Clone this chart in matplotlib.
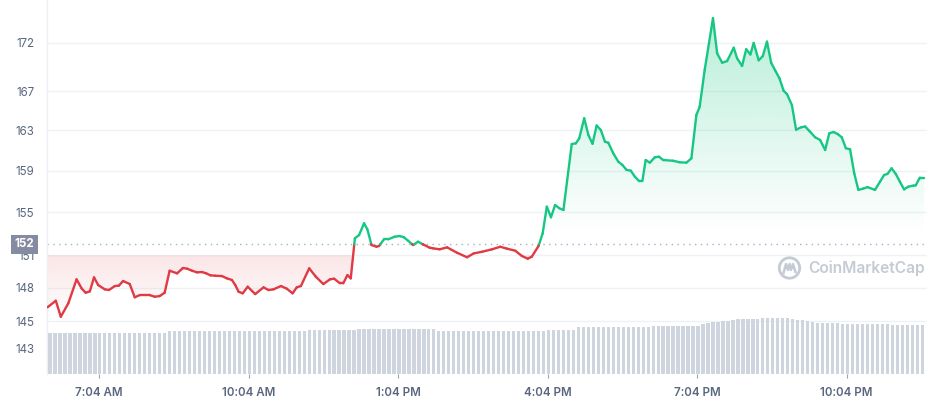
import numpy as np
import matplotlib
matplotlib.use("Agg")
import matplotlib.pyplot as plt
from matplotlib.collections import LineCollection
from matplotlib.path import Path
from matplotlib.patches import PathPatch, Circle, FancyBboxPatch
from matplotlib.colors import to_rgb
from matplotlib.ticker import FixedLocator, FixedFormatter, NullLocator

# ---------------- data (minutes since midnight, price USD) ----------------
times = [
    362, 372, 378, 387, 397, 403, 408, 413, 418, 423,
    431, 436, 443, 448, 453, 461, 467, 473, 485, 491,
    497, 503, 509, 518, 525, 530, 536, 542, 548, 553,
    558, 564, 572, 578, 584, 588, 592, 597, 603, 612,
    622, 628, 634, 643, 650, 657, 662, 667, 677, 685,
    694, 702, 707, 714, 718, 723, 727, 732, 737, 743,
    747, 752, 758, 761, 767, 772, 780, 786, 791, 796,
    802, 808, 814, 822, 826, 834, 843, 855, 867, 875,
    885, 897, 907, 915, 925, 933, 940, 945, 953, 958,
    963, 968, 973, 978, 983, 993, 998, 1002, 1008, 1013,
    1018, 1023, 1028, 1033, 1037, 1043, 1049, 1054, 1059, 1064,
    1069, 1074, 1078, 1082, 1087, 1093, 1098, 1103, 1115, 1123,
    1131, 1137, 1143, 1147, 1153, 1163, 1168, 1174, 1180, 1188,
    1192, 1198, 1203, 1208, 1212, 1218, 1223, 1228, 1233, 1238,
    1243, 1248, 1252, 1258, 1263, 1269, 1274, 1279, 1286, 1292,
    1298, 1303, 1308, 1313, 1318, 1323, 1328, 1333, 1338, 1344,
    1349, 1358, 1364, 1369, 1373, 1378, 1383, 1388, 1393, 1398,
    1404, 1407, 1412, 1417,
]
prices = [
    146.23, 146.82, 145.38, 146.58, 148.76, 147.94, 147.54, 147.67, 148.94, 148.24,
    147.85, 147.79, 148.15, 148.19, 148.61, 148.33, 147.13, 147.33, 147.33, 147.18,
    147.24, 147.54, 149.55, 149.31, 149.80, 149.74, 149.55, 149.40, 149.43, 149.31,
    149.13, 149.09, 149.06, 148.85, 148.70, 148.24, 147.63, 147.49, 148.09, 147.42,
    148.03, 147.79, 147.85, 148.15, 147.91, 147.49, 148.03, 148.15, 149.77, 149.00,
    148.33, 148.76, 148.82, 148.40, 148.40, 149.15, 148.85, 152.56, 152.86, 153.97,
    153.40, 151.93, 151.77, 151.84, 152.46, 152.46, 152.71, 152.77, 152.65, 152.33,
    151.93, 152.24, 151.99, 151.68, 151.62, 151.53, 151.71, 151.21, 150.79, 151.15,
    151.30, 151.53, 151.77, 151.59, 151.40, 150.91, 150.66, 150.85, 151.84, 153.02,
    155.55, 154.54, 155.71, 155.40, 155.23, 161.65, 161.72, 162.22, 164.23, 162.55,
    161.68, 163.50, 163.05, 161.88, 161.78, 160.73, 159.91, 159.58, 159.10, 159.03,
    158.44, 158.02, 158.02, 160.07, 159.81, 160.34, 160.40, 160.07, 160.00, 159.85,
    159.81, 160.24, 164.56, 165.40, 169.17, 174.63, 170.91, 169.93, 170.10, 171.50,
    170.39, 169.59, 171.34, 170.79, 172.00, 170.18, 170.63, 172.14, 169.93, 169.10,
    168.31, 167.03, 166.69, 165.57, 163.08, 163.32, 163.40, 162.95, 162.32, 162.05,
    161.06, 162.72, 162.85, 162.65, 162.32, 161.23, 161.13, 158.77, 157.16, 157.29,
    157.43, 157.16, 157.95, 158.61, 158.71, 159.26, 158.71, 157.95, 157.21, 157.47,
    157.57, 157.60, 158.35, 158.35,
]
open_price = 152.0

# volume bars, one every 6 minutes from 6:02 (relative units)
volume = [
    41.3, 41.3, 41.3, 41.3, 41.3, 41.3, 41.3, 41.3, 41.3, 41.3, 41.3, 41.3,
    41.3, 41.3, 41.3, 41.3, 41.3, 41.3, 41.3, 41.3, 41.3, 41.3, 41.3, 41.3,
    42.7, 42.7, 42.7, 42.7, 42.7, 42.7, 42.7, 42.7, 42.7, 42.7, 42.7, 42.7, 42.7, 42.7,
    42.7, 42.7, 42.7, 42.7, 42.7, 42.7, 42.7, 42.7, 42.7, 42.7, 42.7, 42.7, 42.7, 42.7,
    44.0, 44.0, 44.0, 44.0, 44.0, 44.0, 44.0, 44.0, 44.0, 44.0,
    44.7, 44.7, 44.7, 44.7, 44.7, 44.7, 44.7, 44.7, 44.7, 44.7, 44.7, 44.7, 44.7, 44.7, 44.7, 44.7,
    43.3, 43.3, 43.3, 43.3, 43.3, 43.3, 43.3, 43.3, 43.3, 43.3, 43.3,
    43.3, 43.3, 43.3, 43.3, 43.3, 43.3, 43.3, 43.3, 43.3, 43.3, 43.3,
    44.0, 44.0, 44.0, 44.0, 44.0, 44.0,
    47.3, 47.3, 47.3, 47.3, 47.3, 47.3, 47.3, 47.3, 47.3, 47.3, 47.3, 47.3, 47.3, 47.3, 47.3,
    48.3, 48.3, 48.3, 48.3, 48.3, 48.3, 48.3, 48.3, 48.3, 48.3,
    50.5, 51.0, 51.8, 52.3, 52.8, 53.3, 53.8,
    54.7, 54.7, 54.7, 54.7, 54.7,
    56.0, 56.3, 56.3, 56.3, 56.3, 56.0,
    55.0, 54.5, 54.0, 53.3,
    52.0, 51.5, 51.3, 51.3, 51.0, 50.8,
    50.3, 50.0, 50.0, 50.0, 50.3, 50.0, 50.0, 49.8, 50.0, 49.8, 49.5, 49.3,
    48.9, 48.7, 48.7, 48.7, 48.7,
]
volume_start, volume_step = 362, 6

ytick_values = [142.6, 145, 148, 151, 155, 159, 163, 167, 172]
ytick_labels = ["143", "145", "148", "151", "155", "159", "163", "167", "172"]
xtick_values = [424, 604, 784, 964, 1144, 1324]
xtick_labels = ["7:04 AM", "10:04 AM", "1:04 PM", "4:04 PM", "7:04 PM", "10:04 PM"]

GREEN = "#16c784"
RED = "#e03a44"
TXT = "#58667e"
GRID = "#eff2f5"

plt.rcParams["font.family"] = ["Inter", "DejaVu Sans"]

fig = plt.figure(figsize=(9.28, 4.0), dpi=100)
ax = fig.add_axes([47 / 928, 26 / 400, 881 / 928, 374 / 400])
ax.set_yscale("log")
ax.set_xlim(361.4, 1421.8)
ax.set_ylim(140.36, 176.6)
ax.set_autoscale_on(False)

t = np.array(times, float)
p = np.array(prices, float)

# insert crossing points with the open price
xs, ys = [t[0]], [p[0]]
for i in range(1, len(t)):
    a, b = p[i - 1] - open_price, p[i] - open_price
    if a * b < 0:
        fr = a / (a - b)
        xs.append(t[i - 1] + fr * (t[i] - t[i - 1]))
        ys.append(open_price)
    xs.append(t[i])
    ys.append(p[i])
xs = np.array(xs)
ys = np.array(ys)

# gridlines
for v in ytick_values[1:]:
    ax.axhline(v, color=GRID, lw=1.0, zorder=0.5)


def gradient_fill(where, color, f_lo, f_hi, a_lo, a_hi, zero_above=None):
    coll = ax.fill_between(xs, ys, open_price, where=where, interpolate=True,
                           facecolor="none", edgecolor="none")
    paths = coll.get_paths()
    coll.remove()
    if not paths:
        return
    path = Path.make_compound_path(*paths)
    patch = PathPatch(path, transform=ax.transData, facecolor="none", edgecolor="none")
    ax.add_patch(patch)
    n = 400
    f = np.linspace(0, 1, n)
    alpha = a_lo + (a_hi - a_lo) * (f - f_lo) / (f_hi - f_lo)
    alpha = np.clip(alpha, 0, max(a_lo, a_hi))
    alpha[(f < f_lo) & (a_lo == 0)] = 0
    if zero_above is not None:
        alpha[f > zero_above] = 0
    rgb = to_rgb(color)
    img = np.zeros((n, 1, 4))
    img[:, 0, :3] = rgb
    img[:, 0, 3] = alpha
    im = ax.imshow(img, extent=(0, 1, 0, 1), transform=ax.transAxes, origin="lower",
                   aspect="auto", interpolation="bilinear", zorder=1)
    im.set_clip_path(patch)


# green fill: fades from top of chart to just above open price
gradient_fill(ys >= open_price, GREEN, 0.377, 0.952, 0.0, 0.30)
# red fill: strongest at the 151 gridline, fading downward
gradient_fill(ys <= open_price, RED, 0.14, 0.318, 0.0, 0.13, zero_above=0.318)

# coloured price line
pts = np.column_stack([xs, ys])
segs = np.stack([pts[:-1], pts[1:]], axis=1)
mid = (ys[:-1] + ys[1:]) / 2
cols = [GREEN if m >= open_price else RED for m in mid]
lc = LineCollection(segs, colors=cols, linewidths=1.7, capstyle="round",
                    joinstyle="round", zorder=3)
ax.add_collection(lc)

# open price dotted line
ax.axhline(open_price, color="#a6b0c3", lw=1.0, ls=(0, (1, 3.2)), zorder=2)

# axes styling
for s in ["top", "right", "bottom"]:
    ax.spines[s].set_visible(False)
ax.spines["left"].set_color("#eceff3")
ax.spines["left"].set_linewidth(1.0)
ax.yaxis.set_major_locator(FixedLocator(ytick_values))
ax.yaxis.set_major_formatter(FixedFormatter(ytick_labels))
ax.yaxis.set_minor_locator(NullLocator())
ax.tick_params(axis="y", length=0, pad=9, labelsize=8.3, labelcolor=TXT)
ax.set_xticks(xtick_values)
ax.set_xticklabels(xtick_labels)
ax.tick_params(axis="x", length=3, width=0.8, color="#9aa3b1", pad=6,
               labelsize=8.3, labelcolor=TXT)
for lab in ax.get_xticklabels():
    lab.set_fontweight("semibold")

# open price label box
ax.text(-0.0145, open_price, "152", transform=ax.get_yaxis_transform(),
        ha="right", va="center", fontsize=8.3, fontweight="bold", color="white",
        zorder=10, clip_on=False,
        bbox=dict(boxstyle="square,pad=0.32", fc="#858ca2", ec="none"))

# volume bars
ax2 = ax.twinx()
vt = volume_start + volume_step * np.arange(len(volume))
ax2.bar(vt + volume_step / 2, volume, width=volume_step * 0.66, color="#cfd5df",
        linewidth=0, zorder=1)
ax2.set_ylim(0, 374)
ax2.set_xlim(361.4, 1421.8)
ax2.set_yticks([])
for s in ax2.spines.values():
    s.set_visible(False)

# watermark
fig.text(808 / 928, 1 - 268 / 400, "CoinMarketCap", ha="left", va="center",
         fontsize=11.2, fontweight="semibold", color="#c5cbd5")
circ = Circle((7.895, 1.32), 0.102, transform=fig.dpi_scale_trans, fill=False,
              ec="#c5cbd5", lw=2.0)
fig.patches.append(circ)
mx = np.array([7.835, 7.86, 7.88, 7.895, 7.91, 7.93, 7.955])
my = np.array([1.27, 1.36, 1.30, 1.36, 1.30, 1.36, 1.28])
fig.lines.append(plt.Line2D(mx, my, transform=fig.dpi_scale_trans, color="#c5cbd5",
                            lw=1.8, solid_joinstyle="round"))

fig.savefig("out.png", dpi=100)
